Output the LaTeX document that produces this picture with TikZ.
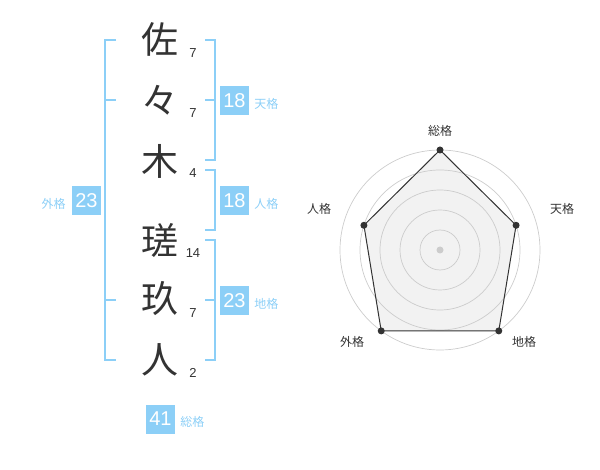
\documentclass[tikz,border=0pt]{standalone}
\usepackage{fontspec}
\setmainfont{Liberation Sans}
\newfontfamily\cjk{Noto Sans CJK JP}
\usetikzlibrary{positioning}

\definecolor{kakublue}{HTML}{8CCFF7}
\definecolor{inkgray}{HTML}{333333}
\definecolor{ringgray}{HTML}{CCCCCC}
\definecolor{areagray}{HTML}{F2F2F2}

\tikzset{
  moji/.style={inner sep=0pt, text=inkgray, font=\cjk\fontsize{37}{37}\selectfont},
  kakusu/.style={inner sep=0pt, text=inkgray, font=\fontsize{13}{13}\selectfont},
  numbox/.style={fill=kakublue, text=white, minimum size=29pt, inner sep=0pt, font=\fontsize{20}{20}\selectfont},
  kakuname/.style={inner sep=0pt, text=kakublue, font=\cjk\fontsize{12}{12}\selectfont},
  bracket/.style={draw=kakublue, line width=2pt},
  axisname/.style={inner sep=0pt, text=inkgray, font=\cjk\fontsize{12}{12}\selectfont},
  vtx/.style={circle, fill=inkgray, inner sep=0pt, minimum size=7pt},
}

\begin{document}
\begin{tikzpicture}[x=1pt, y=-1pt]
        \useasboundingbox (0,0) rectangle (600,470);

        % name characters
        \node[moji] (sa) at (160,39) {佐};
        \node[moji] (noma) at (160,100) {々};
        \node[moji] (ki) at (160,161) {木};
        \node[moji] (sha) at (160,240) {瑳};
        \node[moji] (kyu) at (160,299) {玖};
        \node[moji] (hito) at (160,360) {人};

        % stroke counts
        \node[kakusu] (nsa) at (193,53) {7};
        \node[kakusu] (nnoma) at (193,113) {7};
        \node[kakusu] (nki) at (193,173) {4};
        \node[kakusu] (nsha) at (193,253) {14};
        \node[kakusu] (nkyu) at (193,313) {7};
        \node[kakusu] (nhito) at (193,373) {2};

        % brackets
        \draw[bracket] (116,40) -- (105,40) -- (105,360) -- (116,360);
        \draw[bracket] (105,100) -- (116,100);
        \draw[bracket] (105,300) -- (116,300);
        \draw[bracket] (205,40) -- (215,40) -- (215,160) -- (205,160);
        \draw[bracket] (205,100) -- (215,100);
        \draw[bracket] (205,170) -- (215,170) -- (215,230) -- (205,230);
        \draw[bracket] (205,240) -- (215,240) -- (215,360) -- (205,360);
        \draw[bracket] (205,300) -- (215,300);

        % totals
        \node[numbox] (ten) at (234.5,100.5) {18};
        \node[kakuname, right=5pt of ten, yshift=-3pt] (tenname) {天格};
        \node[numbox] (jin) at (234.5,200.5) {18};
        \node[kakuname, right=5pt of jin, yshift=-3pt] (jinname) {人格};
        \node[numbox] (chi) at (234.5,300.5) {23};
        \node[kakuname, right=5pt of chi, yshift=-3pt] (chiname) {地格};
        \node[numbox] (gai) at (86.5,200.5) {23};
        \node[kakuname, left=6pt of gai, yshift=-3pt] (gainame) {外格};
        \node[numbox] (sou) at (160.5,419) {41};
        \node[kakuname, right=5pt of sou, yshift=-3pt] (souname) {総格};

        % radar chart
        \coordinate (c) at (440,250);
        \coordinate (psou) at ([shift={(-90:100)}]c);
        \coordinate (pten) at ([shift={(-18:80)}]c);
        \coordinate (pchi) at ([shift={(54:100)}]c);
        \coordinate (pgai) at ([shift={(126:100)}]c);
        \coordinate (pjin) at ([shift={(198:80)}]c);
        \fill[areagray] (psou) -- (pten) -- (pchi) -- (pgai) -- (pjin) -- cycle;
        \foreach \r in {20,40,...,100}
            \draw[ringgray, line width=0.7pt] (c) circle[radius=\r pt];
        \fill[ringgray] (c) circle[radius=3.5pt];
        \draw[inkgray, line width=1pt] (psou) -- (pten) -- (pchi) -- (pgai) -- (pjin) -- cycle;
        \foreach \p in {psou,pten,pchi,pgai,pjin}
            \node[vtx] at (\p) {};

        \node[axisname] (asou) at (440,131) {総格};
        \node[axisname] (aten) at (562,209) {天格};
        \node[axisname] (ajin) at (319,209) {人格};
        \node[axisname] (agai) at (352,342) {外格};
        \node[axisname] (achi) at (524,342) {地格};
    \end{tikzpicture}
\end{document}
